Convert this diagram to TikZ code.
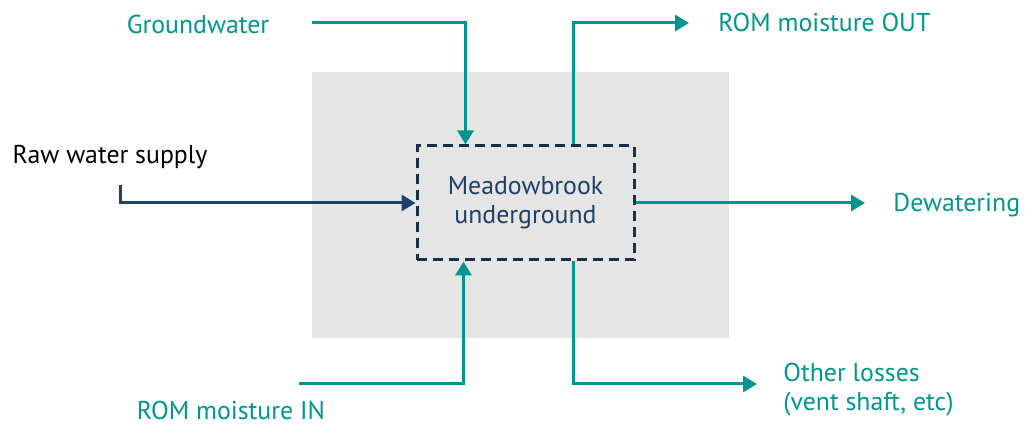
\documentclass[tikz,border=0pt]{standalone}
\usepackage{fontspec}
\setmainfont{PT Sans}
\usetikzlibrary{arrows.meta,positioning}
\definecolor{flowteal}{RGB}{0,150,143}
\definecolor{rawnavy}{RGB}{31,64,104}
\definecolor{boxnavy}{RGB}{27,48,72}
\definecolor{areagray}{RGB}{229,229,229}
\tikzset{
  flow/.style={line width=1.5pt,-{Triangle[width=8pt,length=7pt]}},
  lbl/.style={font=\fontsize{12.9}{14.5}\selectfont,inner sep=0pt}
}
\begin{document}
\begin{tikzpicture}[x=0.5pt,y=-0.5pt]
  \useasboundingbox (0,0) rectangle (1025,426);
  \fill[areagray] (312,72) rectangle (729,338);
  \node[draw=boxnavy,line width=1.5pt,dash pattern=on 5pt off 3pt,
        minimum width=108.5pt,minimum height=57pt,text=rawnavy,
        align=center,lbl] (box) at (525.5,203) {Meadowbrook\\underground};
  % labels
  \node[lbl,text=flowteal] (gw) at (198,24) {Groundwater};
  \node[lbl,text=flowteal,anchor=west] (romout) at (718,22) {ROM moisture OUT};
  \node[lbl] (raw) at (110,157) {Raw water supply};
  \node[lbl,text=flowteal,anchor=west] (dew) at (893,205) {Dewatering};
  \node[lbl,text=flowteal] (romin) at (231,410) {ROM moisture IN};
  \node[lbl,text=flowteal,anchor=west,align=left] (oth) at (783,390) {Other losses\\(vent shaft, etc)};
  % free ends
  \coordinate (gwend) at (312,23);
  \coordinate (romoutend) at (689,23);
  \coordinate (rawend) at (120,185);
  \coordinate (dewend) at (865,203);
  \coordinate (rominend) at (299,384);
  \coordinate (othend) at (757,384);
  % flows
  \draw[flow,flowteal] (gwend) -| ([xshift=-30pt]box.north);
  \draw[flow,flowteal] ([xshift=24pt]box.north) |- (romoutend);
  \draw[flow,rawnavy] (rawend) |- (box.west);
  \draw[flow,flowteal] (box.east) -- (dewend);
  \draw[flow,flowteal] (rominend) -| ([xshift=-31pt]box.south);
  \draw[flow,flowteal] ([xshift=24pt]box.south) |- (othend);
\end{tikzpicture}
\end{document}
